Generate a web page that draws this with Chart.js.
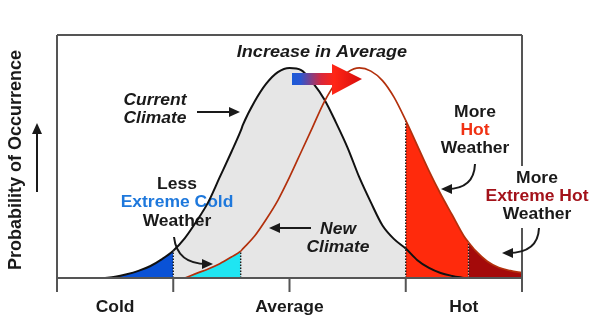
<!DOCTYPE html>
<html>
<head>
<meta charset="utf-8">
<script src="https://cdn.jsdelivr.net/npm/chart.js@4/dist/chart.umd.min.js"></script>
<style>
  html, body { margin: 0; padding: 0; background: #fff; }
  canvas { display: block; }
</style>
</head>
<body>
<canvas id="c" width="597" height="333"></canvas>
<script>
// Temperature axis (arbitrary units: 0 = far cold end, 4 = far hot end)
const temperature = [0.4, 0.5, 0.6, 0.7, 0.8, 0.9, 1.0, 1.1, 1.2, 1.3, 1.4, 1.5, 1.58, 1.6, 1.7, 1.8, 1.9,
  2.0, 2.1, 2.2, 2.3, 2.4, 2.5, 2.6, 2.7, 2.8, 2.9, 3.0, 3.1, 3.2, 3.3, 3.4, 3.5, 3.54, 3.6, 3.7, 3.8, 3.9, 4.0];

// Relative probability of occurrence, current climate
const currentClimate = [0, 0.006, 0.018, 0.034, 0.056, 0.089, 0.13, 0.19, 0.27, 0.36, 0.48, 0.60, 0.70, 0.73, 0.84, 0.925, 0.98,
  1.0, 0.99, 0.93, 0.85, 0.74, 0.62, 0.48, 0.36, 0.25, 0.185, 0.14, 0.085, 0.048, 0.024, 0.01, 0, null, null, null, null, null, null];

// Relative probability of occurrence, new (warmer) climate
const newClimate = [null, null, null, null, null, null, null, 0, 0.022, 0.043, 0.068, 0.10, 0.128, 0.14, 0.20, 0.28, 0.37,
  0.48, 0.60, 0.72, 0.84, 0.93, 0.98, 1.0, 0.985, 0.94, 0.86, 0.75, 0.63, 0.51, 0.40, 0.30, 0.20, 0.17, 0.13, 0.08, 0.05, 0.035, 0.025];

// Shaded bands (temperature limits)
const coldLimit = 1.0;        // extreme cold, current climate
const newColdLimit = 1.58;    // extreme cold, new climate
const hotLimit = 3.0;         // hot weather
const extremeHotLimit = 3.54; // extreme hot weather

// Axis ticks and zone labels
const tickValues = [0, 1, 2, 3, 4];
const zoneLabels = ['Cold', 'Average', 'Hot'];
const zonePositions = [0.5, 2, 3.5];

const FONT = '"Liberation Sans", Arial, Helvetica, sans-serif';
const COLORS = {
  cold: '#0a52d6', newCold: '#1fe5f2', average: '#e6e6e6',
  hot: '#ff2a0c', extremeHot: '#a40a0a',
  currentLine: '#111111', newLine: '#b3300c'
};

function points(values) {
  const out = [];
  temperature.forEach((t, i) => { if (values[i] !== null) out.push({ x: t, y: values[i] }); });
  return out;
}
function valueAt(values, t) { return values[temperature.indexOf(t)]; }

const currentFill = ctx => {
  const a = ctx.p0.parsed.x, b = ctx.p1.parsed.x;
  if (b <= coldLimit) return COLORS.cold;
  if (a >= coldLimit && b <= hotLimit) return COLORS.average;
  return 'rgba(0,0,0,0)';
};
const newFill = ctx => {
  const a = ctx.p0.parsed.x, b = ctx.p1.parsed.x;
  if (b <= newColdLimit) return COLORS.newCold;
  if (a >= extremeHotLimit) return COLORS.extremeHot;
  if (a >= hotLimit) return COLORS.hot;
  return 'rgba(0,0,0,0)';
};

function limitLine(t, values) {
  return {
    data: [{ x: t, y: 0 }, { x: t, y: valueAt(values, t) }],
    borderColor: '#1a1a1a', borderWidth: 1.4, borderDash: [1.5, 1.5],
    fill: false, pointRadius: 0
  };
}

// ---- drawing helpers ----
function text(c, str, cx, baseline, color, size, sx) {
  c.save();
  c.translate(cx, baseline);
  c.scale(sx || 1.06, 1);
  c.font = 'bold ' + size + 'px ' + FONT;
  c.fillStyle = color;
  c.textAlign = 'center';
  c.textBaseline = 'alphabetic';
  c.fillText(str, 0, 0);
  c.restore();
}
function italic(c, str, cx, baseline, size) {
  c.save();
  c.translate(cx, baseline);
  c.scale(1.06, 1);
  c.font = 'italic bold ' + size + 'px ' + FONT;
  c.fillStyle = '#1a1a1a';
  c.textAlign = 'center';
  c.fillText(str, 0, 0);
  c.restore();
}
function head(c, tip, from, len, half) {
  const ang = Math.atan2(tip.y - from.y, tip.x - from.x);
  c.beginPath();
  c.moveTo(tip.x, tip.y);
  c.lineTo(tip.x - len * Math.cos(ang) + half * Math.sin(ang), tip.y - len * Math.sin(ang) - half * Math.cos(ang));
  c.lineTo(tip.x - len * Math.cos(ang) - half * Math.sin(ang), tip.y - len * Math.sin(ang) + half * Math.cos(ang));
  c.closePath();
  c.fill();
}
function arrow(c, p0, cp, p1) {
  c.save();
  c.strokeStyle = '#1a1a1a';
  c.fillStyle = '#1a1a1a';
  c.lineWidth = 2;
  const ang = Math.atan2(p1.y - cp.y, p1.x - cp.x);
  const end = { x: p1.x - 6 * Math.cos(ang), y: p1.y - 6 * Math.sin(ang) };
  c.beginPath();
  c.moveTo(p0.x, p0.y);
  if (cp) c.quadraticCurveTo(cp.x, cp.y, end.x, end.y); else c.lineTo(end.x, end.y);
  c.stroke();
  head(c, p1, cp, 11, 5);
  c.restore();
}

const decor = {
  id: 'decor',
  // runs after the filled areas, before the curves are stroked
  beforeDatasetsDraw(chart) {
    const c = chart.ctx;
    italic(c, 'Current', 155, 105, 16.5);
    italic(c, 'Climate', 155, 123, 16.5);
    arrow(c, { x: 197, y: 112 }, { x: 215, y: 112 }, { x: 240, y: 112 });

    text(c, 'Less', 177, 189, '#1a1a1a', 16.5);
    text(c, 'Extreme Cold', 177, 207, '#1e78dc', 16.5);
    text(c, 'Weather', 177, 226, '#1a1a1a', 16.5);
    arrow(c, { x: 174, y: 237 }, { x: 177, y: 264 }, { x: 213, y: 264 });

    italic(c, 'New', 338, 234, 16.5);
    italic(c, 'Climate', 338, 252, 16.5);
    arrow(c, { x: 311, y: 228 }, { x: 290, y: 228 }, { x: 269, y: 228 });

    text(c, 'More', 475, 117, '#1a1a1a', 16.5);
    text(c, 'Hot', 475, 135, '#f03214', 16.5);
    text(c, 'Weather', 475, 153, '#1a1a1a', 16.5);
    arrow(c, { x: 475, y: 164 }, { x: 474, y: 189 }, { x: 441, y: 189 });
  },
  afterDatasetsDraw(chart) {
    const c = chart.ctx;
    const xs = chart.scales.x, ys = chart.scales.y;
    const xL = xs.getPixelForValue(tickValues[0]);
    const xR = xs.getPixelForValue(tickValues[tickValues.length - 1]);
    const yB = ys.getPixelForValue(0);
    const yT = ys.getPixelForValue(ys.max);
    const tickLen = 14;

    c.save();
    c.strokeStyle = '#555';
    c.lineWidth = 2;
    c.beginPath();
    c.moveTo(xL, yT); c.lineTo(xR, yT);
    c.moveTo(xL, yB); c.lineTo(xR, yB);
    tickValues.forEach(v => {
      const x = xs.getPixelForValue(v);
      c.moveTo(x, v === tickValues[0] || v === tickValues[tickValues.length - 1] ? yT : yB);
      c.lineTo(x, yB + tickLen);
    });
    c.stroke();
    c.restore();

    zoneLabels.forEach((lab, i) => text(c, lab, xs.getPixelForValue(zonePositions[i]), 312, '#1a1a1a', 16.5));

    // y axis title and arrow
    c.save();
    c.translate(20.5, 160);
    c.rotate(-Math.PI / 2);
    c.font = 'bold 18px ' + FONT;
    c.fillStyle = '#1a1a1a';
    c.textAlign = 'center';
    c.fillText('Probability of Occurrence', 0, 0);
    c.restore();
    arrow(c, { x: 37, y: 192 }, { x: 37, y: 160 }, { x: 37, y: 123 });

    // increase-in-average arrow
    c.save();
    const g = c.createLinearGradient(292, 0, 362, 0);
    g.addColorStop(0, '#1b5ad8');
    g.addColorStop(0.12, '#2a57d2');
    g.addColorStop(0.42, '#d8283c');
    g.addColorStop(0.6, '#ff2616');
    g.addColorStop(1, '#d60c0c');
    c.fillStyle = g;
    c.beginPath();
    c.moveTo(292, 73); c.lineTo(332, 73); c.lineTo(332, 64); c.lineTo(362, 79);
    c.lineTo(332, 95); c.lineTo(332, 85); c.lineTo(292, 85);
    c.closePath();
    c.fill();
    c.restore();
    italic(c, 'Increase in Average', 322, 57, 17);

    // extreme hot label sits on a white patch over the frame
    c.save();
    c.fillStyle = '#ffffff';
    c.fillRect(508, 166, 28, 62);
    c.restore();
    text(c, 'More', 537, 183, '#1a1a1a', 16.5);
    text(c, 'Extreme Hot', 537, 201, '#a3121a', 16.5);
    text(c, 'Weather', 537, 219, '#1a1a1a', 16.5);
    arrow(c, { x: 539, y: 228 }, { x: 538, y: 253 }, { x: 502, y: 253 });
  }
};

new Chart(document.getElementById('c'), {
  type: 'line',
  data: {
    datasets: [
      {
        label: 'New Climate',
        data: points(newClimate),
        borderColor: COLORS.newLine, borderWidth: 1.7,
        backgroundColor: 'rgba(0,0,0,0)', fill: 'origin',
        segment: { backgroundColor: newFill },
        pointRadius: 0, cubicInterpolationMode: 'monotone'
      },
      {
        label: 'Current Climate',
        data: points(currentClimate),
        borderColor: COLORS.currentLine, borderWidth: 2,
        backgroundColor: 'rgba(0,0,0,0)', fill: 'origin',
        segment: { backgroundColor: currentFill },
        pointRadius: 0, cubicInterpolationMode: 'monotone'
      },
      limitLine(coldLimit, currentClimate),
      limitLine(newColdLimit, newClimate),
      limitLine(hotLimit, newClimate),
      limitLine(extremeHotLimit, newClimate)
    ]
  },
  options: {
    responsive: false,
    animation: false,
    devicePixelRatio: 1,
    layout: { padding: { left: 57, right: 75, top: 35, bottom: 55 } },
    scales: {
      x: { type: 'linear', min: 0, max: 4, display: false },
      y: { min: 0, max: 1.157, display: false }
    },
    plugins: {
      legend: { display: false },
      tooltip: { enabled: false },
      filler: { drawTime: 'beforeDatasetsDraw' }
    }
  },
  plugins: [decor]
});
</script>
</body>
</html>
